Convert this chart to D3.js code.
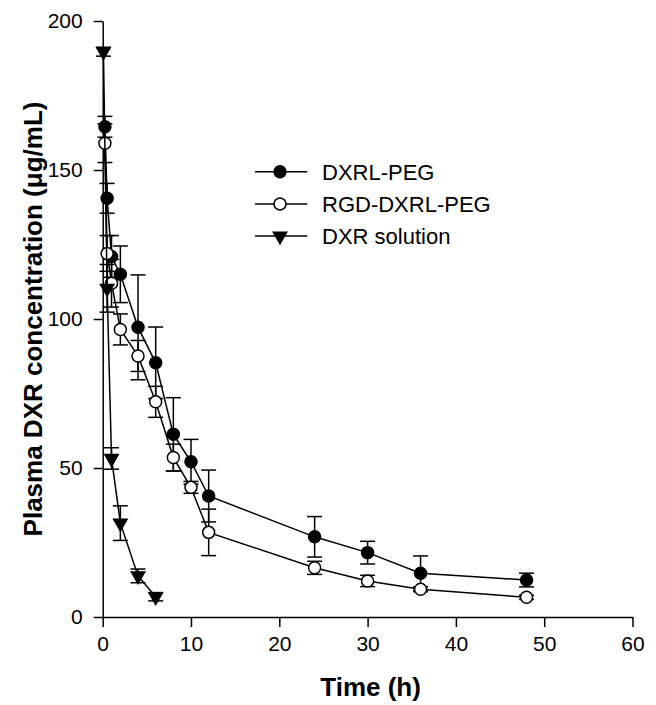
<!DOCTYPE html>
<html>
<head>
<meta charset="utf-8">
<script src="https://cdn.jsdelivr.net/npm/d3@7"></script>
<style>
  body { margin: 0; background: #fff; }
  svg { font-family: "Liberation Sans", Arial, sans-serif; }
</style>
</head>
<body>
<div id="chart"></div>
<script>
// sampling times (h) and values
const timesLipo = [0.25, 0.5, 1, 2, 4, 6, 8, 10, 12, 24, 30, 36, 48];
const dxrlPeg = [164.5, 140.5, 121, 115, 97.2, 85.3, 61.3, 52.1, 40.6, 26.9, 21.6, 14.7, 12.4];
const dxrlPegSd = [3.5, 5, 7, 9.5, 17.6, 12, 12.3, 7.5, 8.7, 6.8, 3.8, 5.8, 2.3];
const rgdPeg = [159, 122, 112, 96.5, 87.6, 72.2, 53.5, 43.5, 28.4, 16.5, 12.1, 9.3, 6.6];
const rgdPegSd = [6.5, 6, 8, 5.2, 5.2, 5.2, 4.5, 2, 7.8, 2.2, 1.9, 0.8, 0.7];
const timesSol = [0.083, 0.5, 1, 2, 4, 6];
const dxrSol = [189.7, 110.3, 53.2, 31.5, 13.8, 6.8];
const dxrSolSd = [1.5, 8, 3.6, 5.8, 2.3, 1.4];

const xTicks = [0, 10, 20, 30, 40, 50, 60];
const yTicks = [0, 50, 100, 150, 200];

const W = 656, H = 705;
const svg = d3.select('#chart').append('svg')
  .attr('width', W)
  .attr('height', H);

const x = d3.scaleLinear().domain([0, 60]).range([102.7, 632.5]);
const y = d3.scaleLinear().domain([0, 200]).range([617, 21]);

// axes
const xAxis = svg.append('g')
  .attr('transform', `translate(0, ${y(0)})`)
  .call(d3.axisBottom(x).tickValues(xTicks).tickSize(10).tickSizeOuter(0).tickPadding(9));
const yAxis = svg.append('g')
  .attr('transform', `translate(${x(0)}, 0)`)
  .call(d3.axisLeft(y).tickValues(yTicks).tickSize(9).tickSizeOuter(0).tickPadding(11));

[xAxis, yAxis].forEach((g) => {
  g.selectAll('path, line').attr('stroke', '#000').attr('stroke-width', 1.5);
  g.selectAll('text').attr('font-size', 21).attr('fill', '#000')
    .attr('font-family', '"Liberation Sans", Arial, sans-serif');
});

svg.append('text')
  .attr('x', (x(0) + x(60)) / 2 + 3)
  .attr('y', 696)
  .attr('text-anchor', 'middle')
  .attr('font-size', 26)
  .attr('font-weight', 'bold')
  .text('Time (h)');

svg.append('text')
  .attr('transform', `translate(42, ${(y(0) + y(200)) / 2}) rotate(-90)`)
  .attr('text-anchor', 'middle')
  .attr('font-size', 26)
  .attr('font-weight', 'bold')
  .text('Plasma DXR concentration (μg/mL)');

const series = [
  {name: 'DXRL-PEG', t: timesLipo, v: dxrlPeg, sd: dxrlPegSd, shape: 'filled'},
  {name: 'RGD-DXRL-PEG', t: timesLipo, v: rgdPeg, sd: rgdPegSd, shape: 'open'},
  {name: 'DXR solution', t: timesSol, v: dxrSol, sd: dxrSolSd, shape: 'tri'}
];

const tri = d3.symbol().type(d3.symbolTriangle).size(110)();

function marker(g, s, cx, cy, r) {
  if (s.shape === 'tri') {
    g.append('path')
      .attr('d', tri)
      .attr('transform', `translate(${cx}, ${cy}) rotate(180)`)
      .attr('fill', '#000');
  } else {
    g.append('circle')
      .attr('cx', cx).attr('cy', cy).attr('r', r)
      .attr('fill', s.shape === 'filled' ? '#000' : '#fff')
      .attr('stroke', '#000')
      .attr('stroke-width', 1.5);
  }
}

series.forEach((s) => {
  const pts = s.t.map((t, i) => ({t: t, v: s.v[i], sd: s.sd[i]}));
  const g = svg.append('g');
  g.append('path')
    .datum(pts)
    .attr('fill', 'none')
    .attr('stroke', '#000')
    .attr('stroke-width', 1.5)
    .attr('d', d3.line().x((d) => x(d.t)).y((d) => y(d.v)));

  pts.forEach((d) => {
    const cx = x(d.t);
    g.append('line')
      .attr('x1', cx).attr('x2', cx)
      .attr('y1', y(d.v - d.sd)).attr('y2', y(d.v + d.sd))
      .attr('stroke', '#000').attr('stroke-width', 1.5);
    [d.v - d.sd, d.v + d.sd].forEach((e) => {
      g.append('line')
        .attr('x1', cx - 7.5).attr('x2', cx + 7.5)
        .attr('y1', y(e)).attr('y2', y(e))
        .attr('stroke', '#000').attr('stroke-width', 1.5);
    });
  });

  pts.forEach((d) => marker(g, s, x(d.t), y(d.v), 6));
});

// legend
const legend = svg.append('g');
series.forEach((s, i) => {
  const ly = 171.7 + i * 32.2;
  legend.append('line')
    .attr('x1', 255).attr('x2', 307.3)
    .attr('y1', ly).attr('y2', ly)
    .attr('stroke', '#000').attr('stroke-width', 1.5);
  marker(legend, s, 280, ly, 6);
  legend.append('text')
    .attr('x', 322)
    .attr('y', ly)
    .attr('dy', '0.36em')
    .attr('font-size', 22)
    .text(s.name);
});
</script>
</body>
</html>
